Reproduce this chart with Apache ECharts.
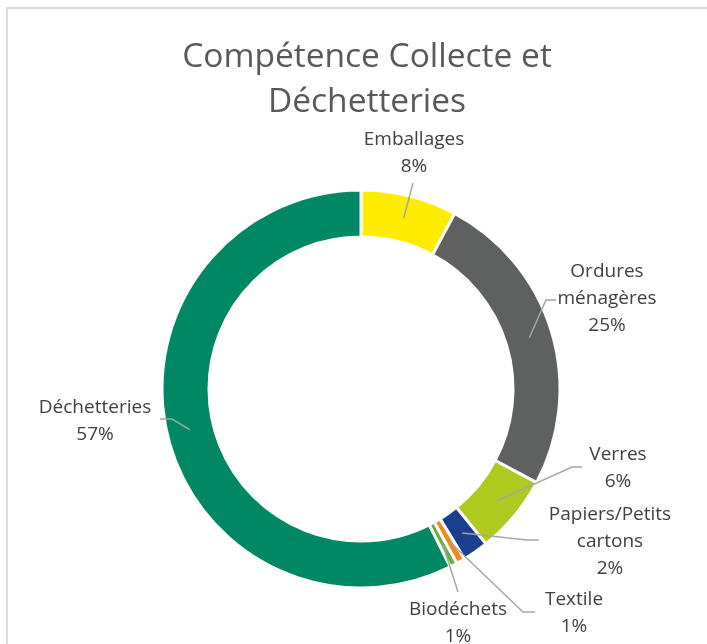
<!DOCTYPE html>
<html>
<head>
<meta charset="utf-8">
<script src="https://cdn.jsdelivr.net/npm/echarts@6/dist/echarts.min.js"></script>
<style>
  html, body { margin: 0; padding: 0; background: #fff; }
  #chart { width: 707px; height: 644px; }
</style>
</head>
<body>
<div id="chart"></div>
<script>
var categories = ['Emballages', 'Ordures\nménagères', 'Verres', 'Papiers/Petits\ncartons', 'Textile', 'Biodéchets', 'Déchetteries'];
var values = [7.8, 25.0, 6.4, 2.1, 0.7, 0.6, 57.4];
var colors = ['#FFEC00', '#5F6160', '#AFCA1F', '#1A3F8F', '#F08A1C', '#6DAF3A', '#008764'];

// label placement (centre of text block) and leader-line elbow/end, like the excel chart
var labelPos = [[414, 153], [607, 299], [618, 468], [610, 542], [574, 613], [458, 623], [95, 421]];
var lineEnd = [
  [[413, 183], [413, 183]],
  [[546, 300], [556, 300]],
  [[572, 467], [582, 467]],
  [[527, 540], [539, 540]],
  [[523, 612], [535, 612]],
  [[458, 592], [458, 592]],
  [[172, 419], [160, 419]]
];

var cx = 361, cy = 389, rOut = 199, rIn = 152;

var chart = echarts.init(document.getElementById('chart'));

var ringData = categories.map(function (c, i) {
  return { name: c, value: values[i], itemStyle: { color: colors[i] } };
});
var labelData = categories.map(function (c, i) {
  return { name: c, value: values[i] };
});

var option = {
  animation: false,
  title: {
    text: 'Compétence Collecte et\nDéchetteries',
    left: 362,
    top: 30,
    textAlign: 'center',
    textStyle: {
      fontFamily: 'Open Sans',
      fontWeight: 'normal',
      fontSize: 33.5,
      lineHeight: 45,
      color: '#595959'
    }
  },
  graphic: [{
    type: 'rect',
    shape: { x: 7, y: 8, width: 760, height: 700 },
    style: { fill: 'none', stroke: '#d9d9d9', lineWidth: 2 }
  }],
  series: [{
    // the ring
    type: 'pie',
    z: 2,
    center: [cx, cy],
    radius: [rIn, rOut],
    startAngle: 90,
    silent: true,
    label: { show: false },
    labelLine: { show: false },
    itemStyle: { borderColor: '#fff', borderWidth: 3 },
    data: ringData
  }, {
    // same ring, transparent, only for labels + leader lines drawn over the ring
    type: 'pie',
    z: 3,
    center: [cx, cy],
    radius: [rIn, rOut],
    startAngle: 90,
    silent: true,
    avoidLabelOverlap: false,
    itemStyle: { color: 'rgba(0,0,0,0)', borderWidth: 0 },
    label: {
      show: true,
      position: 'outside',
      fontFamily: 'Open Sans',
      fontSize: 19,
      lineHeight: 27,
      color: '#404040',
      align: 'center',
      formatter: function (p) {
        return p.name + '\n' + Math.round(p.percent) + '%';
      }
    },
    labelLine: {
      show: true,
      lineStyle: { color: '#a6a6a6', width: 1.5 }
    },
    labelLayout: function (p) {
      var i = p.dataIndex;
      var pt = p.labelLinePoints[0];
      var k = 176 / rOut;
      var p0 = [cx + (pt[0] - cx) * k, cy + (pt[1] - cy) * k];
      return {
        x: labelPos[i][0],
        y: labelPos[i][1],
        align: 'center',
        verticalAlign: 'middle',
        labelLinePoints: [p0, lineEnd[i][0], lineEnd[i][1]]
      };
    },
    data: labelData
  }]
};

chart.setOption(option);
</script>
</body>
</html>
